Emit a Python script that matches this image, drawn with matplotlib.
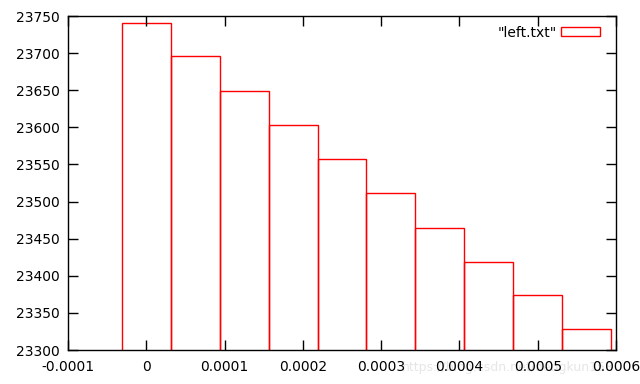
import matplotlib
matplotlib.use("Agg")
import matplotlib.pyplot as plt
import numpy as np

# data
x_centers = [0.0, 0.0000625, 0.000125, 0.0001875, 0.00025, 0.0003125,
             0.000375, 0.0004375, 0.0005, 0.0005625]
counts = [23741, 23696, 23649, 23603, 23557, 23511, 23464, 23419, 23374, 23328]
bar_width = 0.0000625
series_label = '"left.txt"'
x_ticks = [-0.0001, 0, 0.0001, 0.0002, 0.0003, 0.0004, 0.0005, 0.0006]
x_tick_labels = ["-0.0001", "0", "0.0001", "0.0002", "0.0003", "0.0004", "0.0005", "0.0006"]
y_ticks = [23300, 23350, 23400, 23450, 23500, 23550, 23600, 23650, 23700, 23750]

plt.rcParams['font.family'] = ['DejaVu Sans']
fig = plt.figure(figsize=(6.4, 3.84), dpi=100)
ax = fig.add_axes([68/640, 34/384, 548/640, 334/384])

ax.bar(x_centers, counts, width=bar_width, bottom=0, facecolor='none',
       edgecolor='#ff0000', linewidth=1.0, label=series_label)

ax.set_xlim(-0.0001, 0.0006)
ax.set_ylim(23300, 23750)
ax.set_xticks(x_ticks)
ax.set_xticklabels(x_tick_labels)
ax.set_yticks(y_ticks)
ax.tick_params(direction='in', length=7, width=1, top=True, right=True,
               labelsize=10, colors='black')
ax.tick_params(axis='x', pad=7)
ax.tick_params(axis='y', pad=6)
for s in ax.spines.values():
    s.set_linewidth(1)

leg = ax.legend(loc='upper right', frameon=False, markerfirst=False,
                fontsize=10, handlelength=2.8, handleheight=0.6,
                handletextpad=0.3, borderaxespad=0.5,
                bbox_to_anchor=(1 - 4/548, 1 + 3/334))

fig.text(402/640, 1 - 367/384, "https://blog.csdn.net/dengkun158", color='#e6e6e6',
         fontsize=9, va='center', ha='left', zorder=-1)

fig.savefig("out.png", dpi=100)
